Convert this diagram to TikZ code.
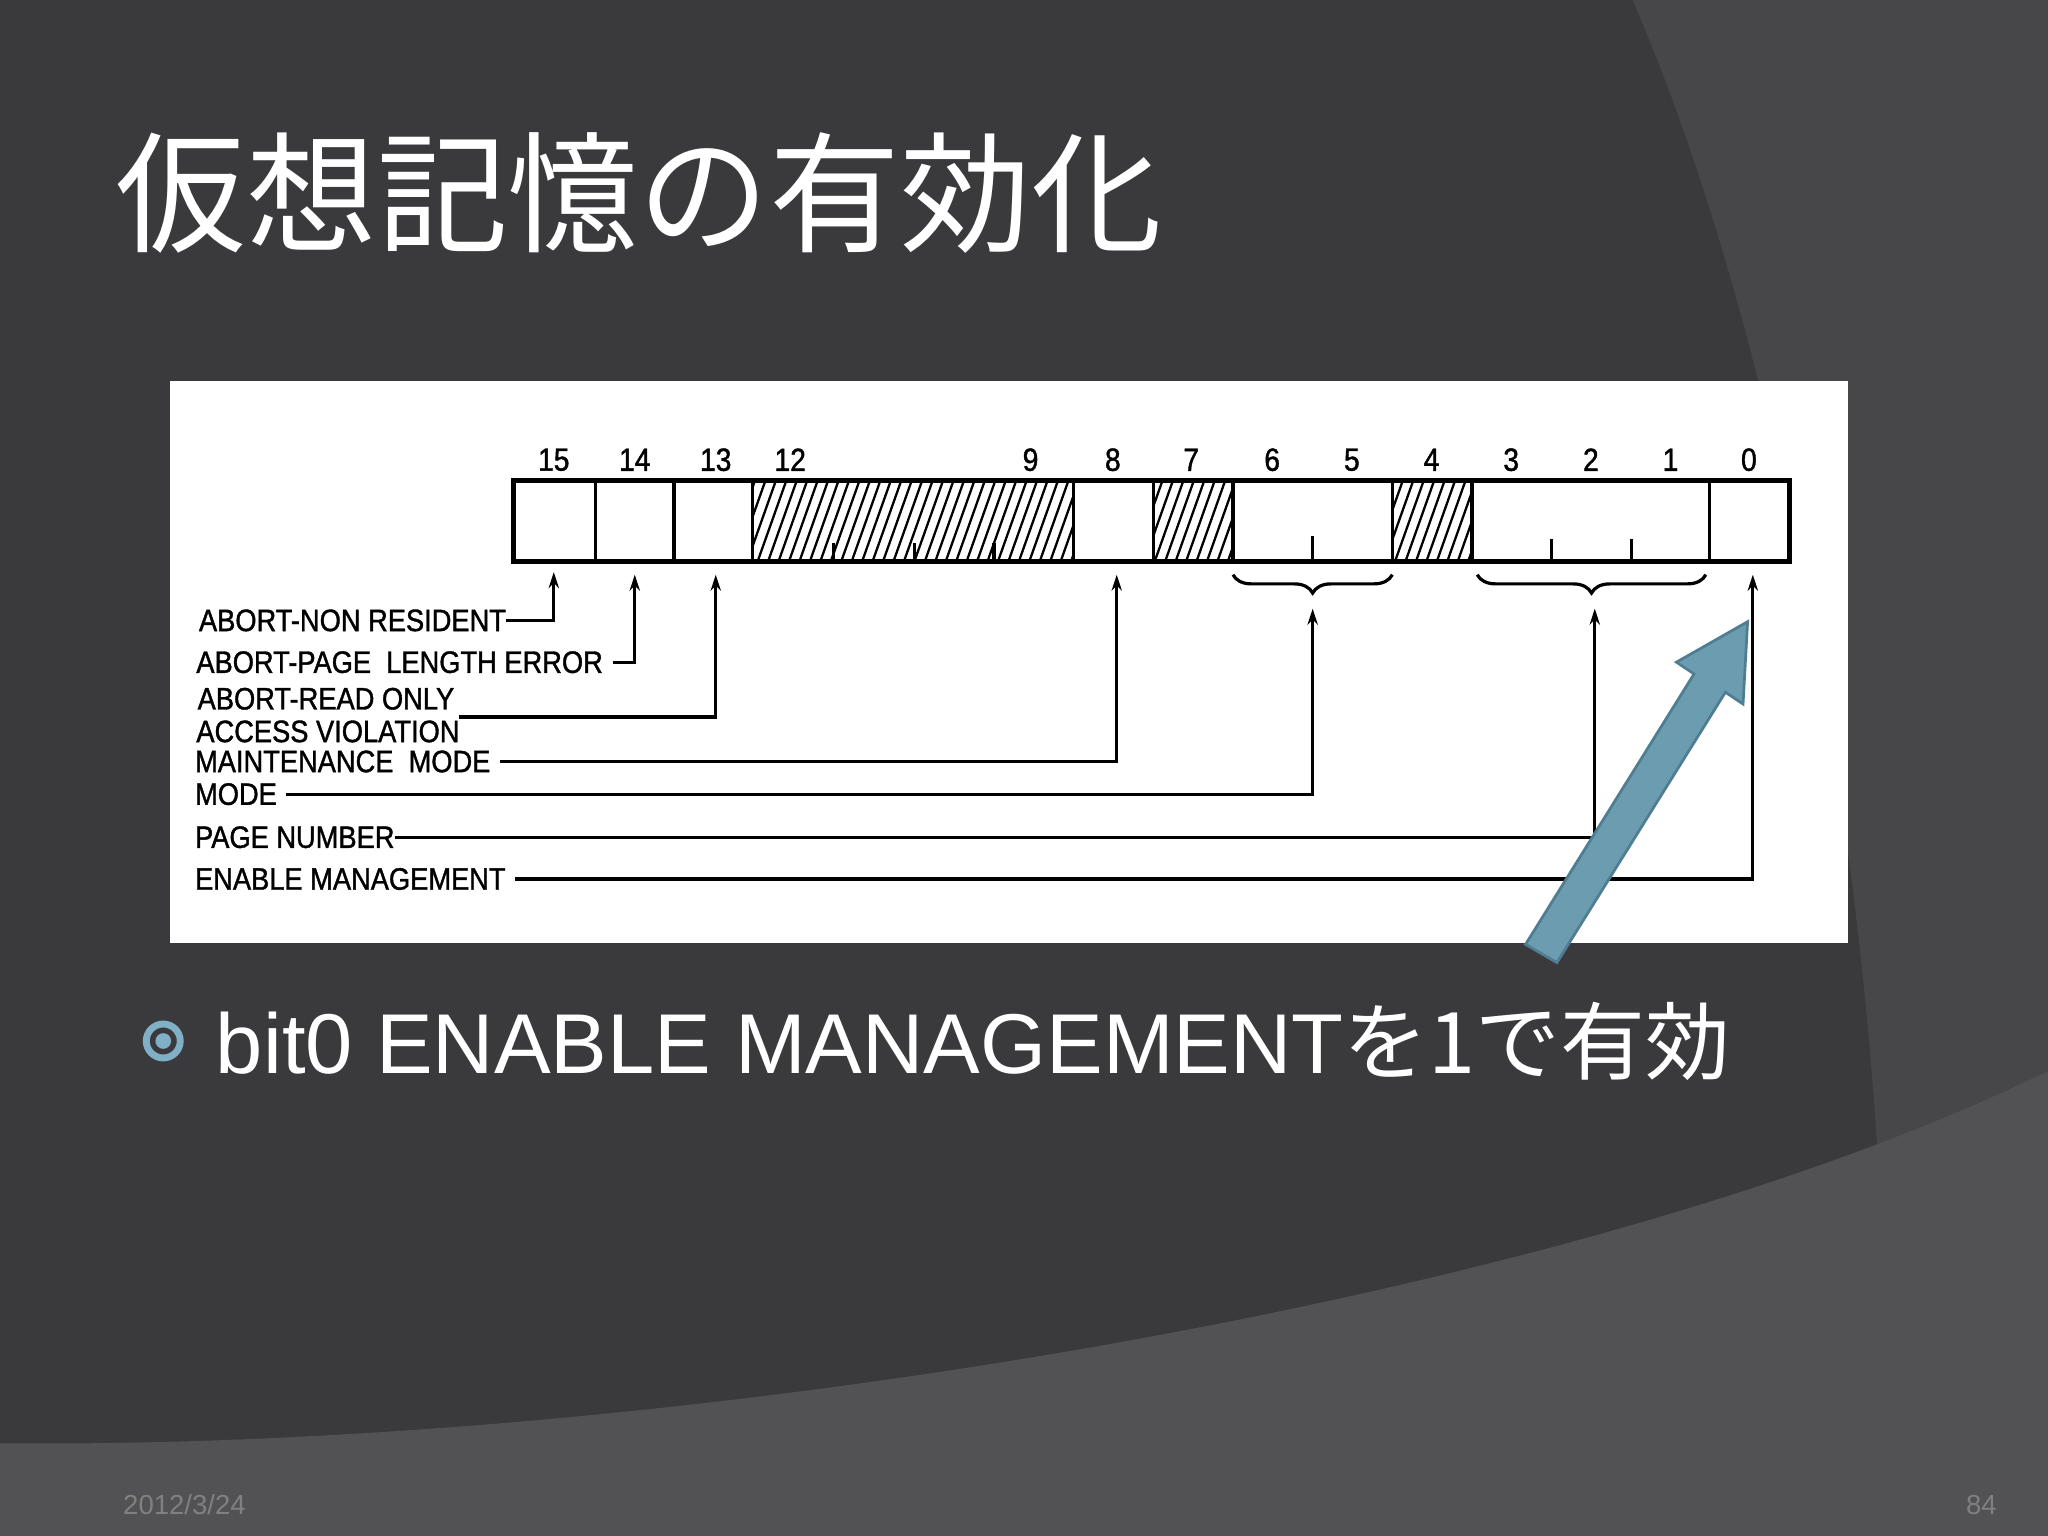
\documentclass[tikz,border=0pt]{standalone}
\usepackage{fontspec}
\setmainfont{Liberation Sans}
\newfontfamily\cjk{Noto Sans CJK JP}
\newfontfamily\lab[FakeStretch=0.88,FakeBold=1.2]{Liberation Sans}
\usetikzlibrary{decorations.pathreplacing,arrows.meta}
\definecolor{bg}{HTML}{3A3A3C}
\definecolor{bg2}{HTML}{47474A}
\definecolor{bg3}{HTML}{525254}
\definecolor{arrowblue}{HTML}{6C9CB0}
\definecolor{arrowedge}{HTML}{4F7D92}
\definecolor{bullet}{HTML}{7FB0C6}
\begin{document}
\begin{tikzpicture}[x=0.02cm,y=-0.02cm,
  lbl/.style={anchor=west,inner sep=0pt,font=\lab\fontsize{13.5}{14}\selectfont},
  bitnum/.style={inner sep=0pt,font=\lab\fontsize{14}{15}\selectfont},
  conn/.style={line width=1.4pt,-{Stealth[length=7pt,width=4.5pt]}},
  cell/.style={line width=2.2pt}]
\useasboundingbox (0,0) rectangle (1568,1176);
\fill[bg] (0,0) rectangle (1568,1176);
\fill[bg2] (1250,0) .. controls (1380,300) and (1460,800) .. (1440,1176) -- (1568,1176) -- (1568,0) -- cycle;
\fill[bg3] (0,1105) .. controls (500,1110) and (1200,1000) .. (1568,820) -- (1568,1176) -- (0,1176) -- cycle;
% title
\node[anchor=west,text=white,inner sep=0pt,font=\cjk\fontsize{57}{62}\selectfont] (title) at (88,148) {仮想記憶の有効化};
% diagram panel
\fill[white] (130,292) rectangle (1415,722);
% hatching
\begin{scope}
\clip (576,368) rectangle (822,430) (883,368) rectangle (944,430) (1066,368) rectangle (1127,430);
\foreach \x in {540,548,...,1140} \draw[line width=1pt] (\x,430) -- (\x+22,368);
\end{scope}
\draw[cell] (393,368) rectangle (1370,430);
\foreach \x in {456,516,576,822,883,944,1066,1127,1309} \draw[line width=1.4pt] (\x,368) -- (\x,430);
\foreach \x in {1005} \draw[line width=1.4pt] (\x,410) -- (\x,430);
\foreach \x in {1188,1249} \draw[line width=1.4pt] (\x,413) -- (\x,430);
\foreach \x in {638,700,761} \draw[line width=1.4pt] (\x,416) -- (\x,430);
% bit numbers
\foreach \b/\x in {15/424,14/486,13/548,12/605,9/789,8/852,7/912,6/974,5/1035,4/1096,3/1157,2/1218,1/1279,0/1339}
  \node[bitnum] (n\b) at (\x,352) {\b};
% braces
\draw[line width=1.4pt,decorate,decoration={brace,mirror,amplitude=8pt}] (944,440) -- (1066,440);
\draw[line width=1.4pt,decorate,decoration={brace,mirror,amplitude=8pt}] (1131,440) -- (1306,440);
% targets
\coordinate (t15) at (424,438);
\coordinate (t14) at (486,440);
\coordinate (t13) at (548,440);
\coordinate (t8) at (855,440);
\coordinate (tmode) at (1005,466);
\coordinate (tpage) at (1221,466);
\coordinate (t0) at (1342,440);
% labels
\node[lbl] (l1) at (152,475) {ABORT-NON RESIDENT};
\node[lbl] (l2) at (150,507) {ABORT-PAGE\ \ LENGTH ERROR};
\node[lbl] (l3) at (151,535) {ABORT-READ ONLY};
\node[lbl] (l3b) at (150,560) {ACCESS VIOLATION};
\node[lbl] (l4) at (149,583) {MAINTENANCE\ \ MODE};
\node[lbl] (l5) at (149,608) {MODE};
\node[lbl] (l6) at (149,641) {PAGE NUMBER};
\node[lbl] (l7) at (149,673) {ENABLE MANAGEMENT};
\draw[conn] (l1.east) -| (t15);
\draw[conn] ([xshift=4pt]l2.east) -| (t14);
\draw[conn] ([xshift=2pt,yshift=-3pt]l3.south east) -| (t13);
\draw[conn] ([xshift=4pt]l4.east) -| (t8);
\draw[conn] ([xshift=4pt]l5.east) -| (tmode);
\draw[conn] (l6.east) -| (tpage);
\draw[conn] ([xshift=4pt]l7.east) -| (t0);
% blue arrow
\filldraw[fill=arrowblue,draw=arrowedge,line width=1.2pt]
  (1192,737) -- (1321,530) -- (1334.5,539) -- (1338,476) -- (1283.5,507) -- (1297,516) -- (1168,723) -- cycle;
% bullet
\draw[bullet,line width=3pt] (125,797) circle (13);
\fill[bullet] (125,797) circle (6);
\node[anchor=west,text=white,inner sep=0pt,font=\fontsize{37}{42}\selectfont] (btxt) at (165,797) {bit0 ENABLE MANAGEMENT{\cjk を1で有効}};
% footer
\node[anchor=west,text=gray,inner sep=0pt,font=\fontsize{12}{13}\selectfont] (date) at (94,1152) {2012/3/24};
\node[anchor=east,text=gray,inner sep=0pt,font=\fontsize{12}{13}\selectfont] (page) at (1529,1152) {84};
\end{tikzpicture}
\end{document}
